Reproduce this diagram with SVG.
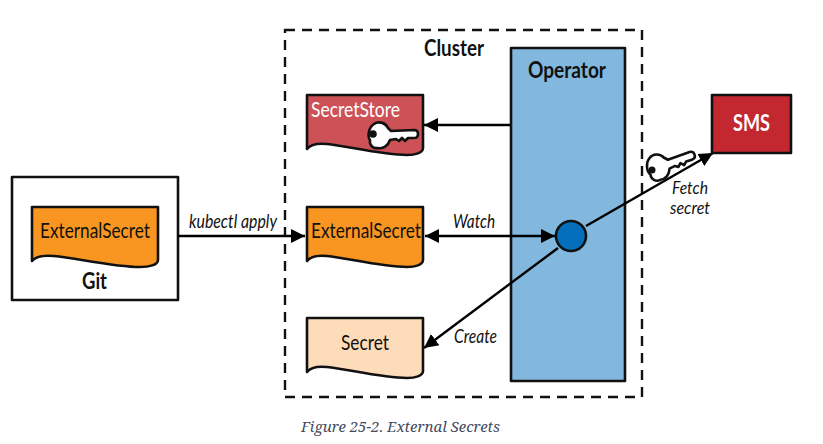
<svg xmlns="http://www.w3.org/2000/svg" width="823" height="444" viewBox="0 0 823 444">
<style>
text{font-family:"Lato","Noto Sans",sans-serif;fill:#111}
.n{font-size:22px}
.b{font-size:23px;font-weight:700}
.l{font-size:19px;font-style:italic}
.f{font-size:16.5px;font-style:italic}
.s{stroke:#111;stroke-width:2.6;stroke-linejoin:round}
.c{stroke:#000;stroke-width:2.4;fill:none}
.k{fill:#fff;stroke:#111;stroke-width:2.6;stroke-linejoin:round}
</style>
<defs>
<marker id="a" markerUnits="userSpaceOnUse" markerWidth="16" markerHeight="16" refX="14" refY="8" orient="auto-start-reverse"><path d="M0 1 L14 8 L0 15Z" fill="#000"/></marker>
<path id="doc" d="M0 0H116V53C116 58 108 60 100 60C75 60 40 51 20 49C10 48 3 50 0 54Z"/>
<path id="doc-w" d="M0 0H126V53C126 58 117 60 108 60C82 60 44 51 22 49C11 48 3 50 0 54Z"/>
<path id="key" d="M5 -11C9 -14 16 -13 19 -7L22 -4L45 -5C48 -5 49 -3 49 -1C49 2 47 3 45 3L39 3L36 6L33 3L30 6L27 4L21 5C19 11 14 14 9 13C4 14 0 10 1 5C-2 1 0 -8 5 -11Z"/>
</defs>
<rect width="823" height="444" fill="#fff"/>
<rect id="cluster" x="285" y="30" width="357" height="367" fill="none" stroke="#111" stroke-width="2.4" stroke-dasharray="10 7"/>
<g id="git"><rect x="12" y="177" width="166" height="123" fill="#fff" class="s"/><text class="b" x="82" y="289" textLength="25" lengthAdjust="spacingAndGlyphs">Git</text></g>
<g id="external-secret-git"><use href="#doc-w" x="32" y="207" fill="#f99621" class="s"/><text class="n" x="40" y="238" textLength="110" lengthAdjust="spacingAndGlyphs">ExternalSecret</text></g>
<g id="operator"><rect x="511" y="48" width="114" height="333" fill="#82b7de" class="s"/><text class="b" x="528" y="78" textLength="78" lengthAdjust="spacingAndGlyphs">Operator</text></g>
<text class="b" x="424" y="56" textLength="60" lengthAdjust="spacingAndGlyphs">Cluster</text>
<g id="connectors">
<path class="c" d="M178 236H305" marker-end="url(#a)"/>
<path class="c" d="M511 125H424" marker-end="url(#a)"/>
<path class="c" d="M425 236H555" marker-start="url(#a)" marker-end="url(#a)"/>
<path class="c" d="M586 226L713 153" marker-end="url(#a)"/>
<path class="c" d="M558 248L424 348" marker-end="url(#a)"/>
</g>
<g id="secret-store"><use href="#doc" x="307" y="95" fill="#cd5257" class="s"/><text class="n" x="311" y="117" textLength="89" lengthAdjust="spacingAndGlyphs" style="fill:#fff">SecretStore</text></g>
<g id="store-key"><use href="#key" x="369" y="135" class="k"/><circle cx="373" cy="134" r="3.8" fill="#111"/></g>
<g id="external-secret-cluster"><use href="#doc" x="307" y="207" fill="#f99621" class="s"/><text class="n" x="311" y="238" textLength="110" lengthAdjust="spacingAndGlyphs">ExternalSecret</text></g>
<g id="secret"><use href="#doc" x="307" y="318" fill="#fddcb9" class="s"/><text class="n" x="341" y="350" textLength="48" lengthAdjust="spacingAndGlyphs">Secret</text></g>
<g id="hub"><circle cx="571" cy="236" r="15" fill="#0470bd" stroke="#111" stroke-width="2.6"/></g>
<g id="sms"><rect x="712" y="95" width="79" height="58" fill="#c3272f" class="s"/><text class="b" x="733" y="131" textLength="37" lengthAdjust="spacingAndGlyphs" style="fill:#fff">SMS</text></g>
<g id="fetch-key"><use href="#key" transform="translate(648 170) rotate(-17)" class="k"/><circle cx="652" cy="170" r="3.5" fill="#111"/></g>
<text class="l" x="189" y="228" textLength="88" lengthAdjust="spacingAndGlyphs">kubectl apply</text>
<text class="l" x="453" y="228" textLength="42" lengthAdjust="spacingAndGlyphs">Watch</text>
<text class="l" x="454" y="343" textLength="43" lengthAdjust="spacingAndGlyphs">Create</text>
<text class="f" x="672" y="194" textLength="36" lengthAdjust="spacingAndGlyphs">Fetch</text>
<text class="f" x="670" y="214" textLength="40" lengthAdjust="spacingAndGlyphs">secret</text>
<text x="301" y="432" textLength="199" lengthAdjust="spacingAndGlyphs" style="font-family:'Noto Serif','DejaVu Serif','Liberation Serif',serif;font-style:italic;font-size:15px;fill:#444a5c">Figure 25-2. External Secrets</text>
</svg>
